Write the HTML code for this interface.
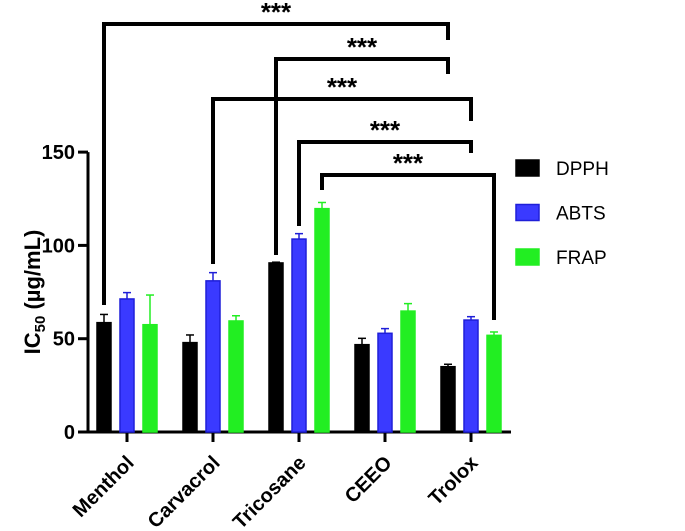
<!DOCTYPE html>
<html><head><meta charset="utf-8"><style>
body{margin:0;background:#fff;}
svg{display:block;font-family:"Liberation Sans",Arial,sans-serif;font-weight:bold;}
</style></head><body>
<svg id="chart" width="685" height="531" viewBox="0 0 685 531">
<g id="plot"></g>
</svg>
<script>
const categories=["Menthol","Carvacrol","Tricosane","CEEO","Trolox"];
const seriesNames=["DPPH","ABTS","FRAP"];
const dpph=[58.6,47.9,90.6,46.8,35.0];
const dpphErr=[4.4,4.1,0.4,3.4,1.3];
const abts=[71.3,81.0,103.4,52.9,60.0];
const abtsErr=[3.4,4.4,2.9,2.5,1.8];
const frap=[57.5,59.5,119.7,64.8,51.8];
const frapErr=[15.9,2.8,3.3,4.0,1.8];
const yTicks=[0,50,100,150];
const brackets=[[0,0,4,0,24,40,305],[2,0,4,0,59,74,255],[1,1,4,1,99,121,264],[2,1,4,1,142,153,226],[2,2,4,2,175,320,190]];
const NS="http://www.w3.org/2000/svg";
const g=document.getElementById('plot');
const y0=432, pxPer=1.866, xAxis0=88;
const yS=v=>y0-v*pxPer;
const xC=i=>127+i*86;
const off=[-23,0,23];
const xBar=(i,s)=>xC(i)+off[s];
const fills=["#000","#3a3aff","#22ee22"];
const strokes=["#000","#1f1fd8","#22ee22"];
function el(t,a,p){const e=document.createElementNS(NS,t);for(const k in a)e.setAttribute(k,a[k]);(p||g).appendChild(e);return e;}
let ax=el('line',{x1:xAxis0,y1:yS(150),x2:xAxis0,y2:y0+1.5,stroke:'#000','stroke-width':3});


let xa=el('line',{x1:xAxis0-1.5,y1:y0,x2:511,y2:y0,stroke:'#000','stroke-width':3});


yTicks.forEach(v=>{
 el('line',{x1:78,y1:yS(v),x2:xAxis0,y2:yS(v),stroke:'#000','stroke-width':3});
 const t=el('text',{x:75,y:yS(v)+7,'text-anchor':'end','font-size':20});
 t.textContent=v;
 
 
});
const vals=[dpph,abts,frap], errs=[dpphErr,abtsErr,frapErr];
categories.forEach((c,i)=>{
 el('line',{x1:xC(i),y1:y0,x2:xC(i),y2:y0+10,stroke:'#000','stroke-width':3});
 for(let s=0;s<3;s++){
  const v=vals[s][i], e=errs[s][i], x=xBar(i,s);
  const r=el('rect',{x:x-7,y:yS(v),width:14,height:y0-yS(v),fill:fills[s],stroke:strokes[s],'stroke-width':1.5});
  
  
  el('line',{x1:x,y1:yS(v),x2:x,y2:yS(v+e),stroke:strokes[s],'stroke-width':1.5});
  el('line',{x1:x-4,y1:yS(v+e),x2:x+4,y2:yS(v+e),stroke:strokes[s],'stroke-width':1.5});
 }
 const t=el('text',{transform:`translate(${xC(i)+8},${y0+32}) rotate(-45)`,'text-anchor':'end','font-size':20});
 t.textContent=c;
 
 
});
brackets.forEach(b=>{
 const xl=xBar(b[0],b[1]), xr=xBar(b[2],b[3]);
 const p=el('path',{d:`M${xl},${b[6]}V${b[4]}H${xr}V${b[5]}`,fill:'none',stroke:'#000','stroke-width':4});
 
 
 const t=el('text',{x:(xl+xr)/2,y:b[4]-3,'text-anchor':'middle','font-size':26});
 t.textContent='***';
 
 
});
const yt=el('text',{transform:'translate(40,292) rotate(-90)','text-anchor':'middle','font-size':22});
yt.innerHTML='IC<tspan font-size="15" dy="5">50</tspan><tspan dy="-5"> (µg/mL)</tspan>';


seriesNames.forEach((n,s)=>{
 const y=160+s*44.5;
 const r=el('rect',{x:516,y:y,width:23,height:16,fill:fills[s],stroke:strokes[s],'stroke-width':1.5});
 
 
 const t=el('text',{x:556,y:y+15,'font-size':19,'font-weight':'normal'});
 t.textContent=n;
 
 
});
</script>
</body></html>
